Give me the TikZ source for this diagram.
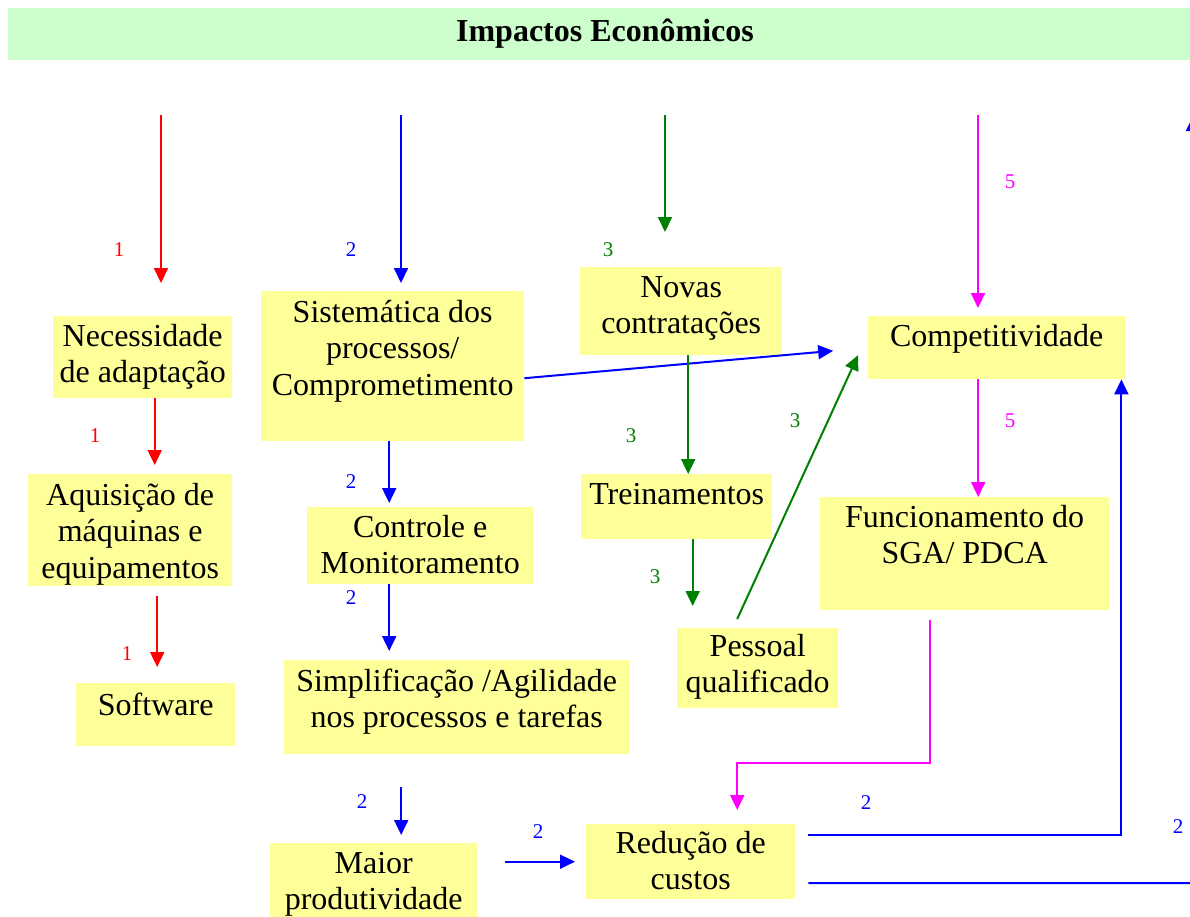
\documentclass[tikz,border=0pt]{standalone}
\usepackage{fontspec}
\setmainfont{Liberation Serif}
\usepackage{tikz}
\usetikzlibrary{arrows.meta}
\definecolor{myyellow}{RGB}{255,255,153}
\definecolor{mylightgreen}{RGB}{204,255,204}
\definecolor{mygreen}{RGB}{0,128,0}
\definecolor{mymagenta}{RGB}{255,0,255}

\begin{document}
\begin{tikzpicture}[x=1pt, y=-1pt,
    box/.style={fill=myyellow, inner sep=0pt, anchor=north west, align=flush center, font=\fontsize{32}{36.5}\selectfont},
    num/.style={font=\fontsize{21}{24}\selectfont},
    arr/.style={line width=2pt, -{Triangle[width=14pt,length=15pt]}}]
        \useasboundingbox (0,0) rectangle (1190,916);
        \node[fill=mylightgreen, inner sep=0pt, minimum width=1182pt, minimum height=52pt] (band) at (599,34) {};
        \node[font=\bfseries\fontsize{32}{36}\selectfont] (title) at (605,34) {Impactos Econômicos};
        % boxes
        \node[box, text width=179pt, text height=30pt, text depth=52pt] (necess) at (53,316) {Necessidade\\de adaptação};
        \node[box, text width=204pt, text height=31pt, text depth=81pt] (aquis) at (28,474) {Aquisição de\\máquinas e\\equipamentos};
        \node[box, text width=159pt, text height=32pt, text depth=31pt] (software) at (76,683) {Software};
        \node[box, text width=263pt, text height=31pt, text depth=119pt] (sistem) at (261,291) {Sistemática dos\\processos/\\Comprometimento};
        \node[box, text width=226pt, text height=30pt, text depth=47pt] (controle) at (307,507) {Controle e\\Monitoramento};
        \node[box, text width=345pt, text height=31pt, text depth=63pt] (simpl) at (284,660) {Simplificação /Agilidade\\nos processos e tarefas};
        \node[box, text width=207pt, text height=30pt, text depth=60pt] (maior) at (270,843) {Maior\\produtividade};
        \node[box, text width=209pt, text height=29pt, text depth=46pt] (reduc) at (586,824) {Redução de\\custos};
        \node[box, text width=202pt, text height=30pt, text depth=58pt] (novas) at (580,267) {Novas\\contratações};
        \node[box, text width=191pt, text height=30pt, text depth=35pt] (trein) at (581,474) {Treinamentos};
        \node[box, text width=161pt, text height=28pt, text depth=52pt] (pessoal) at (677,628) {Pessoal\\qualificado};
        \node[box, text width=257pt, text height=30pt, text depth=33pt] (compet) at (868,316) {Competitividade};
        \node[box, text width=289pt, text height=30pt, text depth=83pt] (funcion) at (820,497) {Funcionamento do\\SGA/ PDCA};
        % free ends
        \coordinate (r0) at (161,115);
        \coordinate (b0) at (401,115);
        \coordinate (g0) at (665,115);
        \coordinate (m0) at (978,115);
        \coordinate (outR) at (1200,883);
        \coordinate (outT) at (1193,146);
        \coordinate (outTtip) at (1193,116);
        % 1
        \draw[arr, red, shorten >=33pt] (r0) -- (r0 |- necess.north);
        \draw[arr, red, shorten >=9pt] ([xshift=12pt]necess.south) -- ([xshift=12pt]necess.south |- aquis.north);
        \draw[arr, red, shorten <=10pt, shorten >=16pt] ([xshift=27pt]aquis.south) -- ([xshift=27pt]aquis.south |- software.north);
        % 2
        \draw[arr, blue, shorten >=8pt] (b0) -- (b0 |- sistem.north);
        \draw[arr, blue, shorten >=4pt] ([xshift=-3.5pt]sistem.south) -- ([xshift=-3.5pt]sistem.south |- controle.north);
        \draw[arr, blue, shorten >=9pt] ([xshift=-31pt]controle.south) -- ([xshift=-31pt]controle.south |- simpl.north);
        \draw[arr, blue, shorten <=33pt, shorten >=8pt] ([xshift=-55.5pt]simpl.south) -- ([xshift=-55.5pt]simpl.south |- maior.north);
        \draw[arr, blue, shorten <=28pt, shorten >=11pt] (reduc.west -| maior.east) -- (reduc.west);
        \draw[arr, blue, shorten >=35pt] ([yshift=-12pt]sistem.east) -- (compet.west);
        \draw[arr, blue, shorten <=13pt] ([yshift=26.5pt]reduc.east) -| ([xshift=-4pt]compet.south east);
        \draw[blue, line width=2pt, shorten <=13pt] ([yshift=-21.5pt]reduc.east) -- (outR);
        \draw[arr, blue] (outT) -- (outTtip);
        % 3
        \draw[arr, mygreen, shorten >=35pt] (g0) -- (g0 |- novas.north);
        \draw[arr, mygreen] ([xshift=7pt]novas.south) -- ([xshift=7pt]novas.south |- trein.north);
        \draw[arr, mygreen, shorten >=22pt] ([xshift=16pt]trein.south) -- ([xshift=16pt]trein.south |- pessoal.north);
        \draw[arr, mygreen] ([xshift=-20.5pt, yshift=9pt]pessoal.north) -- ([xshift=-10pt, yshift=-7.5pt]compet.west);
        % 5
        \draw[arr, mymagenta, shorten >=8pt] (m0) -- (m0 |- compet.north);
        \draw[arr, mymagenta] ([xshift=-18.5pt]compet.south) -- ([xshift=-18.5pt]compet.south |- funcion.north);
        \draw[arr, mymagenta, shorten <=10pt, shorten >=14pt] ([xshift=-34.5pt]funcion.south) -- ++(0pt,-153pt) -| ([xshift=46.5pt]reduc.north);
        % numbers
        \node[num, red] (n1a) at (119,250) {1};
        \node[num, red] (n1b) at (95,436) {1};
        \node[num, red] (n1c) at (127,654) {1};
        \node[num, blue] (n2a) at (351,250) {2};
        \node[num, blue] (n2b) at (351,482) {2};
        \node[num, blue] (n2c) at (351,598) {2};
        \node[num, blue] (n2d) at (362,802) {2};
        \node[num, blue] (n2e) at (538,832) {2};
        \node[num, blue] (n2f) at (866,803) {2};
        \node[num, blue] (n2g) at (1178,827) {2};
        \node[num, mygreen] (n3a) at (608,250) {3};
        \node[num, mygreen] (n3b) at (631,436) {3};
        \node[num, mygreen] (n3c) at (655,577) {3};
        \node[num, mygreen] (n3d) at (795,421) {3};
        \node[num, mymagenta] (n5a) at (1010,182) {5};
        \node[num, mymagenta] (n5b) at (1010,421) {5};
  \end{tikzpicture}
\end{document}
